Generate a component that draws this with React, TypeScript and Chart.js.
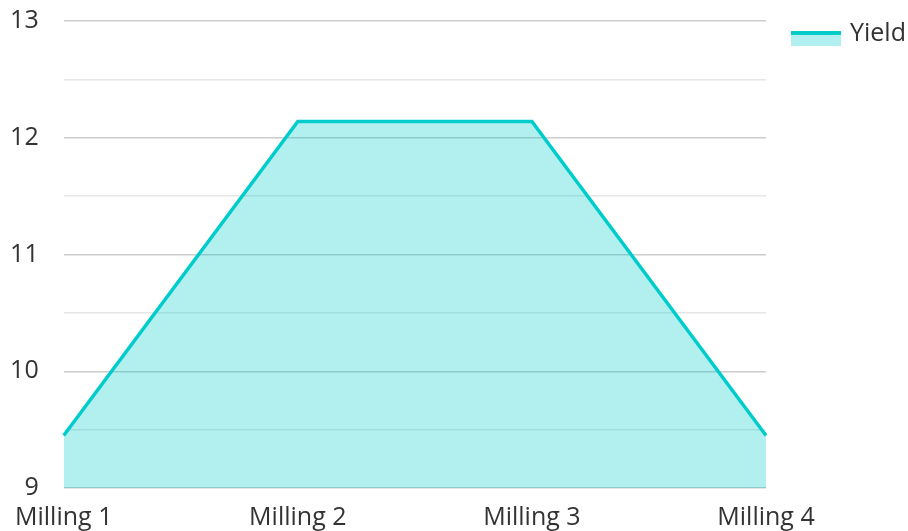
import React, { useEffect, useRef } from "react";
import { Chart, registerables } from "chart.js";

Chart.register(...registerables);

const categories = ["Milling 1", "Milling 2", "Milling 3", "Milling 4"];
const yieldValues = [9.45, 12.14, 12.14, 9.45];
const seriesName = "Yield";
const yMin = 9;
const yMax = 13;

const LINE = "#00cccc";
const FILL = "rgba(0,204,204,0.3)";
const TEXT = "#333333";
const FONT = "'Open Sans', 'Noto Sans', sans-serif";

export default function App() {
  const ref = useRef<HTMLCanvasElement>(null);
  useEffect(() => {
    if (!ref.current) return;
    const legendPlugin = {
      id: "customLegend",
      afterDraw(chart: any) {
        const c = chart.ctx;
        const x = chart.chartArea.right + 25;
        const y = 31;
        c.save();
        c.fillStyle = FILL;
        c.fillRect(x, y, 50, 15);
        c.fillStyle = LINE;
        c.fillRect(x, y, 50, 4);
        c.fillStyle = TEXT;
        c.font = `25px ${FONT}`;
        c.textAlign = "left";
        c.textBaseline = "middle";
        c.fillText(seriesName, x + 59, y + 3);
        c.restore();
      },
    };
    const chart = new Chart(ref.current, {
      type: "line",
      data: {
        labels: categories,
        datasets: [
          {
            label: seriesName,
            data: yieldValues,
            borderColor: LINE,
            backgroundColor: FILL,
            borderWidth: 3.5,
            fill: "start",
            pointRadius: 0,
            tension: 0,
          },
        ],
      },
      options: {
        responsive: false,
        animation: false,
        layout: { padding: { top: 21, left: 0, right: 142, bottom: 0 } },
        plugins: {
          legend: { display: false },
          tooltip: { enabled: false },
        },
        scales: {
          x: {
            offset: false,
            grid: { display: false, drawTicks: false },
            border: { display: false },
            ticks: {
              color: TEXT,
              font: { family: FONT, size: 25 },
              padding: 15,
              maxRotation: 0,
              autoSkip: false,
            },
            afterFit: (s: any) => {
              s.height = 43;
            },
          },
          y: {
            min: yMin,
            max: yMax,
            grid: {
              drawTicks: false,
              color: (ctx: any) =>
                ctx.tick && Math.abs(ctx.tick.value % 1) < 1e-9 ? "#cccccc" : "#e6e6e6",
              lineWidth: 1.5,
            },
            border: { display: false },
            ticks: {
              stepSize: 0.5,
              color: TEXT,
              font: { family: FONT, size: 25 },
              padding: 25,
              callback: (v: any) => (Math.abs(Number(v) % 1) < 1e-9 ? String(v) : ""),
            },
            afterFit: (s: any) => {
              s.width = 63;
              s.paddingTop = 0;
              s.paddingBottom = 0;
            },
          },
        },
      },
      plugins: [legendPlugin],
    } as any);
    return () => chart.destroy();
  }, []);
  return (
    <div style={{ position: "fixed", left: 0, top: 0, width: 908, height: 531, background: "#fff" }}>
      <canvas ref={ref} width={908} height={531} style={{ display: "block" }} />
    </div>
  );
}
